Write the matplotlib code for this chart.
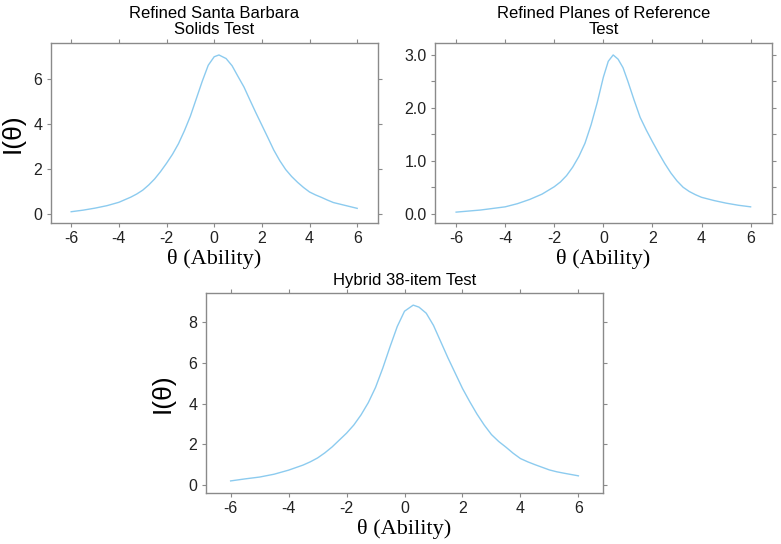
import matplotlib
matplotlib.use("Agg")
import matplotlib.pyplot as plt
from matplotlib.ticker import MultipleLocator, FormatStrFormatter

plt.rcParams["axes.unicode_minus"] = False

# test information curves
theta_sbst = [-6, -5.5, -5, -4.5, -4, -3.5, -3.25, -3, -2.75, -2.5, -2.25, -2, -1.75, -1.5,
              -1.25, -1, -0.75, -0.5, -0.25, 0, 0.2, 0.5, 0.75, 1, 1.25, 1.5, 1.75, 2, 2.25,
              2.5, 2.75, 3, 3.25, 3.5, 3.75, 4, 4.25, 4.5, 4.75, 5, 5.5, 6]
info_sbst = [0.09, 0.16, 0.25, 0.36, 0.51, 0.74, 0.88, 1.05, 1.28, 1.55, 1.88, 2.25, 2.65, 3.12,
             3.7, 4.35, 5.13, 5.91, 6.62, 7.0, 7.08, 6.92, 6.6, 6.12, 5.65, 5.07, 4.5, 3.95,
             3.4, 2.84, 2.37, 1.97, 1.66, 1.40, 1.17, 0.97, 0.84, 0.73, 0.61, 0.50, 0.37, 0.24]

theta_por = [-6, -5, -4, -3.5, -3, -2.5, -2.25, -2, -1.75, -1.5, -1.25, -1, -0.75, -0.5, -0.25,
             0, 0.2, 0.4, 0.6, 0.8, 1, 1.25, 1.5, 1.75, 2, 2.25, 2.5, 2.75, 3, 3.25, 3.5, 3.75,
             4, 4.5, 5, 5.5, 6]
info_por = [0.03, 0.07, 0.13, 0.19, 0.27, 0.37, 0.44, 0.51, 0.6, 0.72, 0.88, 1.08, 1.33, 1.68,
            2.1, 2.58, 2.88, 3.0, 2.92, 2.76, 2.5, 2.15, 1.82, 1.58, 1.36, 1.15, 0.95, 0.77,
            0.62, 0.50, 0.42, 0.36, 0.31, 0.25, 0.20, 0.16, 0.13]

theta_hyb = [-6, -5.5, -5, -4.5, -4, -3.5, -3.25, -3, -2.75, -2.5, -2, -1.75, -1.5, -1.25, -1,
             -0.75, -0.5, -0.25, 0, 0.3, 0.5, 0.75, 1, 1.25, 1.5, 1.75, 2, 2.25, 2.5, 2.75, 3,
             3.25, 3.5, 3.75, 4, 4.25, 4.5, 5, 5.25, 5.5, 6]
info_hyb = [0.20, 0.30, 0.39, 0.53, 0.73, 0.98, 1.14, 1.33, 1.58, 1.87, 2.55, 2.95, 3.45, 4.05,
            4.8, 5.75, 6.8, 7.8, 8.55, 8.85, 8.75, 8.45, 7.85, 7.05, 6.25, 5.5, 4.75, 4.1,
            3.49, 2.95, 2.48, 2.14, 1.86, 1.56, 1.30, 1.14, 1.0, 0.74, 0.65, 0.58, 0.45]

titles = ["Refined Santa Barbara\nSolids Test", "Refined Planes of Reference\nTest",
          "Hybrid 38-item Test"]

LINE = "#8ccbef"
SPINE = "#8a8a8a"
SANS = ["Liberation Sans", "DejaVu Sans"]
SERIF = ["Liberation Serif", "DejaVu Serif"]


def style_axes(ax, ylim, ystep, yfmt, minor=None):
    ax.set_xlim(-6.86, 6.86)
    ax.set_ylim(*ylim)
    ax.xaxis.set_major_locator(MultipleLocator(2))
    ax.yaxis.set_major_locator(MultipleLocator(ystep))
    ax.yaxis.set_major_formatter(FormatStrFormatter(yfmt))
    if minor:
        ax.yaxis.set_minor_locator(MultipleLocator(minor))
    for s in ax.spines.values():
        s.set_color(SPINE)
        s.set_linewidth(1.0)
    ax.tick_params(which="both", direction="out", length=3, width=0.8, color=SPINE,
                   top=True, right=True, labelsize=11.5, labelcolor="#222222", pad=3)
    for lab in ax.get_xticklabels() + ax.get_yticklabels():
        lab.set_family(SANS)
    ax.set_xlabel("θ (Ability)", family=SERIF, fontsize=16, labelpad=2)


def main():
    fig = plt.figure(figsize=(7.81, 5.44), dpi=100)

    ax1 = fig.add_axes([0.0649, 0.5906, 0.4187, 0.3298])
    ax1.plot(theta_sbst, info_sbst, color=LINE, lw=1.0)
    style_axes(ax1, (-0.4, 7.6), 2, "%d")
    ax1.set_ylabel("I(θ)", family=SANS, fontsize=19, labelpad=6)
    ax1.set_title(titles[0], family=SANS, fontsize=12, pad=7, linespacing=1.05)

    ax2 = fig.add_axes([0.557, 0.5906, 0.4311, 0.3298])
    ax2.plot(theta_por, info_por, color=LINE, lw=1.0)
    style_axes(ax2, (-0.17, 3.22), 1.0, "%.1f", minor=0.5)
    ax2.set_title(titles[1], family=SANS, fontsize=12, pad=7, linespacing=1.05)

    ax3 = fig.add_axes([0.2634, 0.0943, 0.5091, 0.3665])
    ax3.plot(theta_hyb, info_hyb, color=LINE, lw=1.0)
    style_axes(ax3, (-0.38, 9.43), 2, "%d")
    ax3.set_ylabel("I(θ)", family=SANS, fontsize=19, labelpad=10)
    ax3.set_title(titles[2], family=SANS, fontsize=12, pad=6)

    fig.savefig("out.png", dpi=100)


if __name__ == "__main__":
    main()
